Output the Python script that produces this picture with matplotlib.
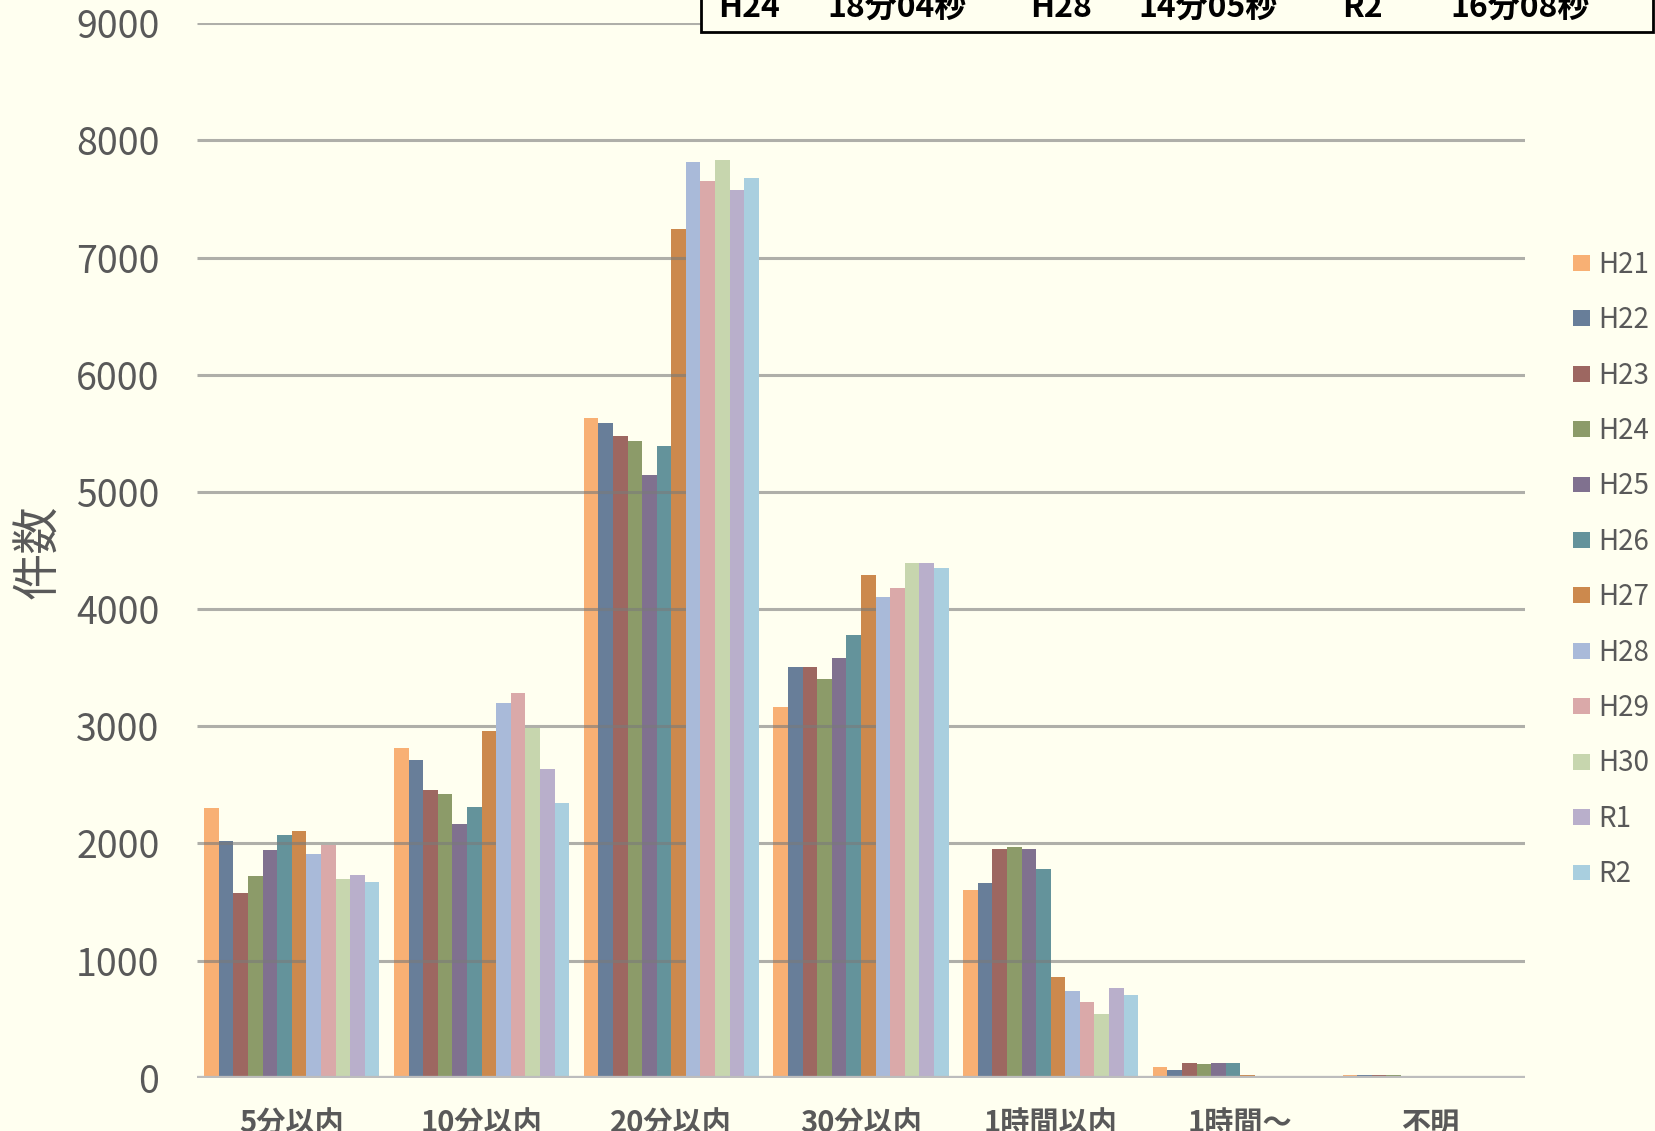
import numpy as np
import matplotlib
matplotlib.use("Agg")
import matplotlib.pyplot as plt
from matplotlib.patches import Rectangle, Patch

plt.rcParams['font.family'] = ['Noto Sans CJK JP', 'DejaVu Sans']

categories = ['5分以内', '10分以内', '20分以内', '30分以内', '1時間以内', '1時間～', '不明']
series = ['H21', 'H22', 'H23', 'H24', 'H25', 'H26', 'H27', 'H28', 'H29', 'H30', 'R1', 'R2']

H21 = [2300, 2810, 5630, 3160, 1600, 88, 20]
H22 = [2020, 2715, 5585, 3505, 1660, 63, 20]
H23 = [1580, 2455, 5475, 3505, 1950, 125, 20]
H24 = [1725, 2420, 5430, 3405, 1965, 114, 20]
H25 = [1945, 2168, 5145, 3580, 1950, 125, 3]
H26 = [2068, 2310, 5390, 3780, 1780, 125, 3]
H27 = [2105, 2960, 7240, 4292, 862, 20, 2]
H28 = [1910, 3200, 7818, 4105, 739, 17, 2]
H29 = [1988, 3280, 7650, 4178, 642, 4, 1]
H30 = [1700, 2985, 7830, 4395, 545, 4, 1]
R1 = [1726, 2632, 7575, 4395, 763, 4, 1]
R2 = [1667, 2348, 7675, 4347, 703, 4, 1]
values = [H21, H22, H23, H24, H25, H26, H27, H28, H29, H30, R1, R2]

colors = ['#F8B074', '#687E99', '#9D6761', '#8C9B69', '#80718F', '#64939B',
          '#CC894D', '#A9BAD9', '#DAA9A9', '#C7D6AE', '#B9AFCB', '#A9CFDF']

yticks = list(range(0, 9001, 1000))

box_years = ['H24', 'H28', 'R2']
box_times = ['18分04秒', '14分05秒', '16分08秒']

BG = '#FFFFF0'
W, H = 1655, 1131
fig = plt.figure(figsize=(W / 100, H / 100), dpi=100, facecolor=BG)
ax = fig.add_axes([197 / W, 53.3 / H, (1525 - 197) / W, (1107.8 - 53.3) / H])
ax.set_facecolor(BG)

x = np.arange(len(categories))
bw = 1 / 13
for i, (name, vals, c) in enumerate(zip(series, values, colors)):
    ax.bar(x + (i - 5.5) * bw, vals, width=bw, color=c, label=name,
           zorder=1 if i < 7 else 2, linewidth=0)

ax.hlines(yticks[1:], -0.5, len(categories) - 0.5, color='#7A7A7A', alpha=0.6,
          lw=2.2, zorder=1.5)
ax.axhline(0, color='#BDBDBD', lw=3.8, zorder=3)

ax.set_xlim(-0.5, len(categories) - 0.5)
ax.set_ylim(0, 9000)
ax.set_yticks(yticks)
ax.set_yticklabels([str(v) for v in yticks], fontsize=27, color='#595959')
ax.set_xticks(x)
ax.set_xticklabels(categories, fontsize=21, color='#595959', fontweight='bold')
ax.tick_params(axis='y', length=0, pad=27)
ax.tick_params(axis='x', length=0, pad=22)
for s in ax.spines.values():
    s.set_visible(False)

fig.text(39 / W, 1 - 552 / H, '件数', rotation=90, fontsize=34, color='#595959',
         ha='center', va='center')

handles = [Patch(facecolor=c, label=n) for n, c in zip(series, colors)]
fig.legend(handles=handles, loc='center left',
           bbox_to_anchor=(1573 / W, 1 - 569.5 / H), frameon=False,
           fontsize=20, labelcolor='#595959', handlelength=0.62, handleheight=0.5,
           handletextpad=0.3, labelspacing=0.915, borderpad=0, borderaxespad=0)

fig.add_artist(Rectangle((701 / W, 1 - 31.7 / H), (1653 - 701) / W, 0.2,
                         transform=fig.transFigure, facecolor=BG,
                         edgecolor='black', lw=2, zorder=5))
xs_year = [749, 1061, 1362]
xs_time = [897, 1208, 1520]
for yr, tm, xa, xb in zip(box_years, box_times, xs_year, xs_time):
    fig.text(xa / W, 1 - 17 / H, yr, fontsize=23, fontweight='bold', ha='center',
             va='baseline', zorder=6)
    fig.text(xb / W, 1 - 17 / H, tm, fontsize=23, fontweight='bold', ha='center',
             va='baseline', zorder=6)

fig.savefig('out.png', dpi=100, facecolor=BG)
